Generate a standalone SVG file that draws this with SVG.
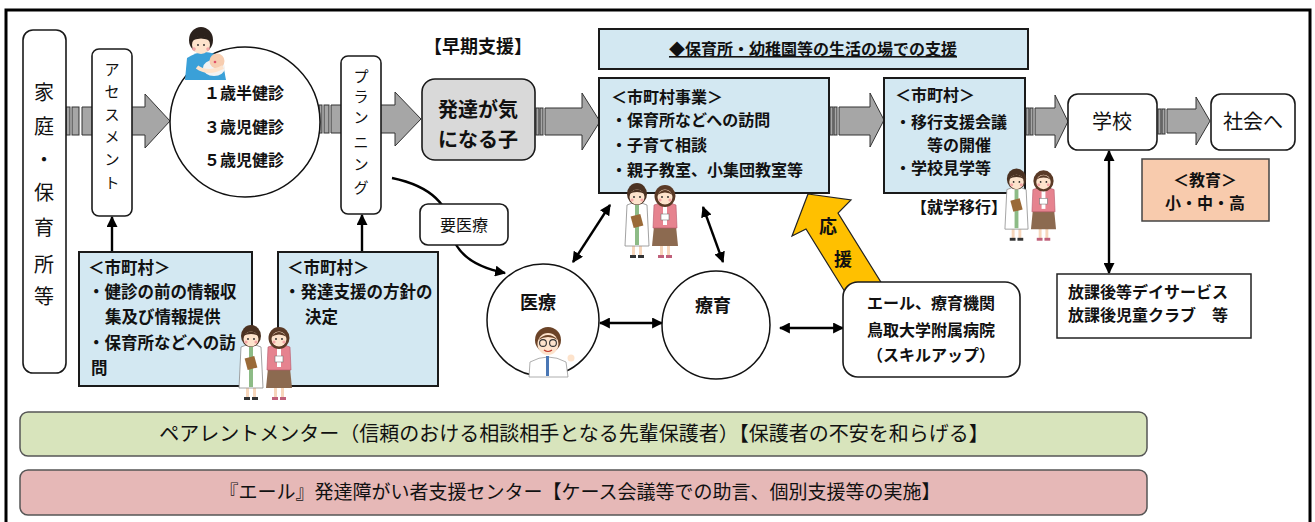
<svg xmlns="http://www.w3.org/2000/svg" xmlns:xlink="http://www.w3.org/1999/xlink" width="1315" height="522" viewBox="0 0 1315 522">
<style>
  text { font-family: "Noto Sans CJK JP", "Noto Sans CJK SC", sans-serif; fill: #111; }
  .b { font-weight: bold; }
  .c { text-anchor: middle; }
  .f15 { font-size: 15px; }
  .f16 { font-size: 16px; }
  .f165 { font-size: 16.5px; }
  .f17 { font-size: 17px; }
  .f18 { font-size: 18px; }
  .f20 { font-size: 20px; }
  .f19 { font-size: 19px; }
  .blue { fill: #d3e8f2; stroke: #1a1a1a; stroke-width: 2; }
  .white { fill: #ffffff; stroke: #1a1a1a; stroke-width: 1.6; }
  .sarrow { fill: #a6a6a6; stroke: #333; stroke-width: 1; }
  .link { fill: none; stroke: #000; stroke-width: 2.4; }
</style>
<defs>
  <marker id="ah" viewBox="0 0 10 10" refX="9" refY="5" markerWidth="11" markerHeight="11" markerUnits="userSpaceOnUse" orient="auto-start-reverse">
    <path d="M0,0 L10,5 L0,10 Z" fill="#000"/>
  </marker>
  <!-- two staff members: doctor in white coat and staff with name tag -->
  <symbol id="staff" viewBox="0 0 56 80">
    <rect x="9" y="62" width="3" height="12" fill="#f7d6bb"/>
    <rect x="16" y="62" width="3" height="12" fill="#f7d6bb"/>
    <rect x="7" y="73" width="6" height="3" fill="#333"/>
    <rect x="15" y="73" width="6" height="3" fill="#333"/>
    <path d="M4,23 Q14,18 24,23 L26,64 L2,64 Z" fill="#fff" stroke="#8a8a8a" stroke-width="0.8"/>
    <rect x="12" y="23" width="4" height="40" fill="#8dbb86"/>
    <rect x="9" y="33" width="10" height="12" fill="#9a6a38" transform="rotate(-15 14 39)"/>
    <ellipse cx="14" cy="12" rx="10" ry="11" fill="#4b3222"/>
    <ellipse cx="14" cy="15" rx="7.5" ry="7.5" fill="#fde3cc"/>
    <path d="M6,12 Q14,3 22,12 Q14,8 6,12 Z" fill="#4b3222"/>
    <circle cx="11" cy="15" r="0.9" fill="#222"/>
    <circle cx="17" cy="15" r="0.9" fill="#222"/>
    <circle cx="9" cy="18" r="1.6" fill="#f4a6a6"/>
    <circle cx="19" cy="18" r="1.6" fill="#f4a6a6"/>
    <rect x="37" y="62" width="3" height="12" fill="#f7d6bb"/>
    <rect x="44" y="62" width="3" height="12" fill="#f7d6bb"/>
    <rect x="35" y="73" width="6" height="3" fill="#c0607a"/>
    <rect x="43" y="73" width="6" height="3" fill="#c0607a"/>
    <path d="M31,44 L53,44 L55,64 L29,64 Z" fill="#8c6a50"/>
    <path d="M31,23 Q42,18 53,23 L54,46 L30,46 Z" fill="#e6838f" stroke="#b5566a" stroke-width="0.6"/>
    <rect x="40" y="23" width="4" height="20" fill="#fff"/>
    <rect x="38" y="32" width="8" height="6" fill="#fff" stroke="#777" stroke-width="0.6"/>
    <ellipse cx="42" cy="14" rx="10.5" ry="11" fill="#5a3a26"/>
    <ellipse cx="42" cy="15" rx="7.5" ry="7.5" fill="#fde3cc"/>
    <path d="M34,13 Q42,3 50,13 Q42,8 34,13 Z" fill="#5a3a26"/>
    <circle cx="39" cy="15" r="0.9" fill="#222"/>
    <circle cx="45" cy="15" r="0.9" fill="#222"/>
    <circle cx="37" cy="18" r="1.6" fill="#f4a6a6"/>
    <circle cx="47" cy="18" r="1.6" fill="#f4a6a6"/>
  </symbol>
</defs>

<rect width="1315" height="522" fill="#fff"/>
<!-- outer frame -->
<rect x="6" y="10" width="1304" height="540" fill="none" stroke="#000" stroke-width="3"/>

<!-- striped flow arrows (drawn under the boxes) -->
<g id="flow-arrows">
  <g class="sarrow">
    <rect x="66" y="107" width="4" height="28"/><rect x="72" y="107" width="7" height="28"/>
    <path d="M82,107 H145 V94 L170,121 L145,148 V135 H82 Z"/>
  </g>
  <g class="sarrow">
    <rect x="319" y="105" width="3" height="28"/><rect x="324" y="105" width="5" height="28"/>
    <path d="M331,105 H395 V92 L421,119 L395,146 V133 H331 Z"/>
  </g>
  <g class="sarrow">
    <rect x="536" y="108" width="3" height="27"/><rect x="540" y="108" width="3" height="27"/>
    <path d="M545,108 H582 V93 L600,121.5 L582,150 V135 H545 Z"/>
  </g>
  <g class="sarrow">
    <rect x="830" y="107" width="3" height="28"/><rect x="834" y="107" width="3" height="28"/>
    <path d="M839,107 H870 V93 L884,120 L870,147 V135 H839 Z"/>
  </g>
  <g class="sarrow">
    <rect x="1026" y="108" width="3" height="27"/><rect x="1030" y="108" width="3" height="27"/>
    <path d="M1035,108 H1055 V95 L1068,121.5 L1055,148 V135 H1035 Z"/>
  </g>
  <g class="sarrow">
    <rect x="1158" y="109" width="3" height="25"/><rect x="1162" y="109" width="3" height="25"/>
    <path d="M1167,109 H1196 V97 L1210,121 L1196,145 V133 H1167 Z"/>
  </g>
</g>

<!-- support arrow 応援 -->
<g id="ouen-arrow">
  <path d="M808,194 L851,200 L838,213 L892,300 L850,300 L806,229 L792,236 Z" fill="#ffc000" stroke="#222" stroke-width="1.2"/>
  <text class="b f18 c" x="828" y="233">応</text>
  <text class="b f18 c" x="843" y="266">援</text>
</g>

<!-- connectors -->
<g id="connectors">
  <path class="link" d="M392,178 Q450,190 452,235 Q460,264 505,273" marker-end="url(#ah)"/>
  <line class="link" x1="112" y1="252" x2="112" y2="217" stroke-width="2" marker-end="url(#ah)"/>
  <line class="link" x1="362" y1="252" x2="362" y2="215" stroke-width="2" marker-end="url(#ah)"/>
  <line class="link" x1="573" y1="262" x2="610" y2="205" marker-start="url(#ah)" marker-end="url(#ah)"/>
  <line class="link" x1="703" y1="207" x2="723" y2="262" marker-start="url(#ah)" marker-end="url(#ah)"/>
  <line class="link" x1="600" y1="323" x2="662" y2="323" marker-start="url(#ah)" marker-end="url(#ah)"/>
  <line class="link" x1="780" y1="328" x2="843" y2="328" marker-start="url(#ah)" marker-end="url(#ah)"/>
  <line class="link" x1="1109" y1="151" x2="1109" y2="273" marker-start="url(#ah)" marker-end="url(#ah)"/>
</g>

<g id="home">
  <rect class="white" x="23" y="30" width="43" height="343" rx="10"/>
  <text class="f20 c" x="44">
    <tspan x="44" y="100">家</tspan><tspan x="44" y="134">庭</tspan><tspan x="44" y="167">・</tspan><tspan x="44" y="200">保</tspan><tspan x="44" y="235">育</tspan><tspan x="44" y="272">所</tspan><tspan x="44" y="304">等</tspan>
  </text>
</g>

<g id="assessment">
  <rect class="white" x="92" y="49" width="40" height="167" rx="7"/>
  <text class="f15 c" x="112">
    <tspan x="112" y="75">ア</tspan><tspan x="112" y="97">セ</tspan><tspan x="112" y="120">ス</tspan><tspan x="112" y="142">メ</tspan><tspan x="112" y="165">ン</tspan><tspan x="112" y="188">ト</tspan>
  </text>
</g>

<g id="checkups">
  <circle cx="245" cy="122" r="75" fill="#fff" stroke="#111" stroke-width="1.5"/>
  <text class="b f16 c" x="244" y="99">１歳半健診</text>
  <text class="b f16 c" x="244" y="133">３歳児健診</text>
  <text class="b f16 c" x="244" y="166">５歳児健診</text>
  <!-- mother holding a baby -->
  <g id="mother">
    <path d="M187,58 Q205,46 222,58 L226,80 L185,80 Z" fill="#3aa0d8"/>
    <ellipse cx="201" cy="40" rx="12" ry="13" fill="#2b211c"/>
    <ellipse cx="201" cy="45" rx="9" ry="9" fill="#fde3cc"/>
    <path d="M191,41 Q201,30 211,41 Q201,36 191,41 Z" fill="#2b211c"/>
    <circle cx="198" cy="45" r="0.9" fill="#222"/><circle cx="204" cy="45" r="0.9" fill="#222"/>
    <circle cx="194" cy="49" r="1.8" fill="#f4a6a6"/><circle cx="208" cy="49" r="1.8" fill="#f4a6a6"/>
    <ellipse cx="214" cy="68" rx="11" ry="8" fill="#f2f2f2"/>
    <circle cx="217" cy="61" r="7.5" fill="#f7cdb0"/>
    <circle cx="215" cy="62" r="1.3" fill="#e0506a"/>
    <path d="M197,67 Q208,75 223,67" fill="none" stroke="#fde3cc" stroke-width="4"/>
  </g>
</g>

<g id="planning">
  <rect class="white" x="341" y="56" width="40" height="158" rx="7"/>
  <text class="f15 c" x="361">
    <tspan x="361" y="82">プ</tspan><tspan x="361" y="102">ラ</tspan><tspan x="361" y="123">ン</tspan><tspan x="361" y="148">ニ</tspan><tspan x="361" y="170">ン</tspan><tspan x="361" y="193">グ</tspan>
  </text>
</g>

<g id="early-label">
  <text class="b f18 c" x="478" y="53">【早期支援】</text>
</g>

<g id="concern-child">
  <rect x="422" y="79" width="113" height="81" rx="13" fill="#d9d9d9" stroke="#1a1a1a" stroke-width="1.6"/>
  <text class="b f20 c" x="478" y="117">発達が気</text>
  <text class="b f20 c" x="478" y="147">になる子</text>
</g>

<g id="daily-life-bar">
  <rect class="blue" x="599" y="29" width="429" height="40"/>
  <text class="b f16 c" x="813" y="55" text-decoration="underline">◆保育所・幼稚園等の生活の場での支援</text>
</g>

<g id="municipal-program">
  <rect class="blue" x="599" y="78" width="230" height="115"/>
  <text class="b f16" x="611" y="103">＜市町村事業＞</text>
  <text class="b f16" x="611" y="126">・保育所などへの訪問</text>
  <text class="b f16" x="611" y="151">・子育て相談</text>
  <text class="b f16" x="611" y="176">・親子教室、小集団教室等</text>
</g>

<g id="transition">
  <rect class="blue" x="884" y="78" width="141" height="115"/>
  <text class="b f16" x="895" y="101">＜市町村＞</text>
  <text class="b f16" x="895" y="128">・移行支援会議</text>
  <text class="b f16" x="927" y="151">等の開催</text>
  <text class="b f16" x="895" y="174">・学校見学等</text>
  <text class="b f16 c" x="959" y="213">【就学移行】</text>
</g>

<g id="school">
  <rect class="white" x="1068" y="94" width="89" height="56" rx="10"/>
  <text class="f20 c" x="1112" y="129">学校</text>
</g>

<g id="society">
  <rect class="white" x="1211" y="94" width="84" height="56" rx="10"/>
  <text class="f20 c" x="1253" y="129">社会へ</text>
</g>

<g id="education">
  <rect x="1142" y="159" width="127" height="62" fill="#f8cbad" stroke="#444" stroke-width="1.5"/>
  <text class="b f16 c" x="1205" y="186">＜教育＞</text>
  <text class="b f16 c" x="1205" y="209">小・中・高</text>
</g>

<g id="after-school">
  <rect x="1057" y="274" width="194" height="64" fill="#fff" stroke="#222" stroke-width="1.5"/>
  <text class="b f16" x="1068" y="298">放課後等デイサービス</text>
  <text class="b f16" x="1068" y="321">放課後児童クラブ　等</text>
</g>

<g id="yell-center">
  <rect class="white" x="843" y="282" width="177" height="95" rx="15"/>
  <text class="b f16 c" x="931" y="309">エール、療育機関</text>
  <text class="b f16 c" x="931" y="336">鳥取大学附属病院</text>
  <text class="b f16 c" x="931" y="361">（スキルアップ）</text>
</g>

<g id="needs-medical">
  <rect class="white" x="420" y="204" width="88" height="41" rx="8"/>
  <text class="f16 c" x="464" y="231">要医療</text>
</g>

<g id="medical">
  <circle cx="543" cy="320" r="56" fill="#fff" stroke="#111" stroke-width="1.5"/>
  <text class="b f18 c" x="538" y="309">医療</text>
  <!-- doctor with glasses -->
  <g id="doctor">
    <path d="M530,362 Q548,352 566,362 L568,377 L529,377 Z" fill="#fff" stroke="#999" stroke-width="0.8"/>
    <rect x="546" y="356" width="3" height="20" fill="#4a77b5"/>
    <ellipse cx="548" cy="340" rx="13" ry="13" fill="#6b4327"/>
    <ellipse cx="548" cy="344" rx="10.5" ry="11" fill="#fde3cc"/>
    <path d="M538,340 Q548,330 558,340 Q548,334 538,340 Z" fill="#6b4327"/>
    <circle cx="543" cy="343" r="3.4" fill="none" stroke="#333" stroke-width="1.1"/>
    <circle cx="553" cy="343" r="3.4" fill="none" stroke="#333" stroke-width="1.1"/>
    <path d="M544,350 Q548,353 552,350" fill="none" stroke="#c0392b" stroke-width="1.2"/>
    <circle cx="571" cy="358" r="3.5" fill="#fde3cc"/>
  </g>
</g>

<g id="therapy">
  <circle cx="716" cy="325" r="54" fill="#fff" stroke="#111" stroke-width="1.5"/>
  <text class="b f18 c" x="713" y="312">療育</text>
</g>

<g id="municipal-info">
  <rect class="blue" x="79" y="252" width="173" height="134"/>
  <text class="b f165" x="88" y="274">＜市町村＞</text>
  <text class="b f165" x="88" y="298">・健診の前の情報収</text>
  <text class="b f165" x="105" y="323">集及び情報提供</text>
  <text class="b f165" x="88" y="349">・保育所などへの訪</text>
  <text class="b f165" x="91" y="374">問</text>
</g>

<g id="municipal-policy">
  <rect class="blue" x="278" y="252" width="160" height="134"/>
  <text class="b f165" x="287" y="274">＜市町村＞</text>
  <text class="b f165" x="284" y="298">・発達支援の方針の</text>
  <text class="b f165" x="305" y="323">決定</text>
</g>

<!-- staff illustrations -->
<use xlink:href="#staff" x="623" y="182" width="56" height="80"/>
<use xlink:href="#staff" x="1003" y="166" width="54" height="80"/>
<use xlink:href="#staff" x="237" y="324" width="56" height="80"/>

<g id="parent-mentor">
  <rect x="20" y="412" width="1127" height="44" rx="8" fill="#d8e4bc" stroke="#555" stroke-width="1.5"/>
  <text class="f20 c" x="574" y="441">ペアレントメンター（信頼のおける相談相手となる先輩保護者）【保護者の不安を和らげる】</text>
</g>

<g id="support-center">
  <rect x="20" y="470" width="1127" height="45" rx="8" fill="#e6b8b7" stroke="#555" stroke-width="1.5"/>
  <text class="f19 c" x="580" y="499">『エール』発達障がい者支援センター【ケース会議等での助言、個別支援等の実施】</text>
</g>
</svg>
